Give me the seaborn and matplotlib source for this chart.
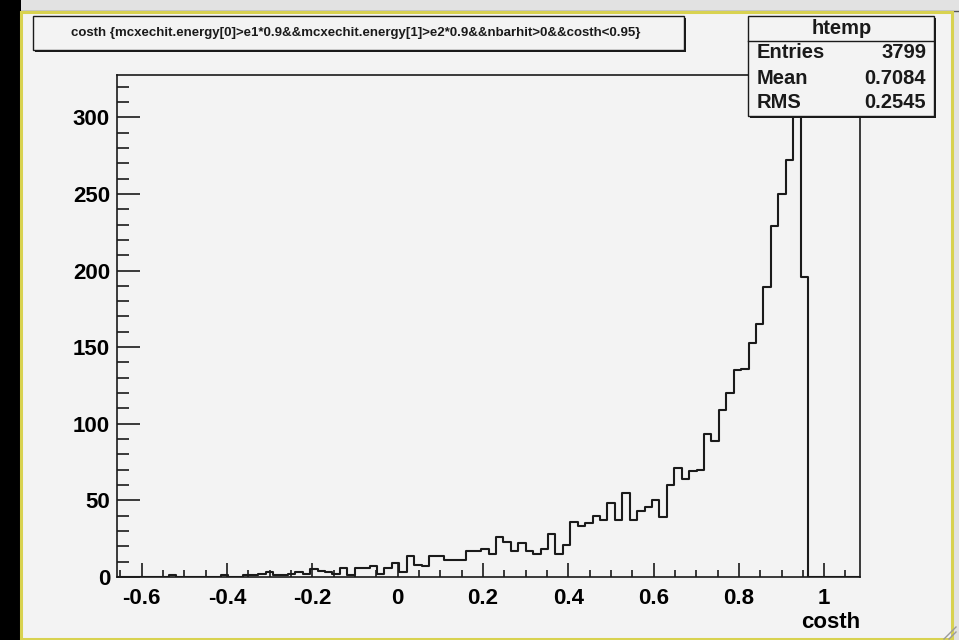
import numpy as np
import pandas as pd
import matplotlib
matplotlib.use("Agg")
import matplotlib.pyplot as plt
from matplotlib.patches import Rectangle
from matplotlib.lines import Line2D
from matplotlib.ticker import MultipleLocator
import seaborn as sns

# costh histogram: 100 equal bins
x_low = -0.658
x_high = 1.084
n_bins = 100

counts = [0, 0, 0, 0, 0, 0, 0, 1, 0, 0,
          0, 0, 0, 0, 1, 0, 0, 1, 1, 2,
          3, 1, 1, 2, 3, 2, 5, 4, 3, 2,
          6, 1, 6, 6, 7, 2, 6, 9, 3, 14,
          8, 7, 14, 14, 11, 11, 11, 17, 17, 18,
          15, 26, 23, 17, 22, 17, 15, 18, 28, 15,
          21, 36, 33, 35, 40, 37, 48, 37, 55, 37,
          43, 46, 50, 39, 60, 71, 64, 69, 70, 93,
          89, 109, 120, 135, 136, 153, 165, 189, 229, 250,
          272, 312, 196, 0, 0, 0, 0, 0, 0, 0]

title_text = "costh {mcxechit.energy[0]>e1*0.9&&mcxechit.energy[1]>e2*0.9&&nbarhit>0&&costh<0.95}"
stats_name = "htemp"
stats_labels = ["Entries", "Mean", "RMS"]
stats_values = ["3799", "0.7084", "0.2545"]
x_label = "costh"

W, H = 959, 640
BG = "#f3f3f3"
INK = "#1a1a1a"

plt.rcParams["font.family"] = ["Liberation Sans", "DejaVu Sans"]


def fx(px):
    return px / W


def fy(py):
    return 1 - py / H


fig = plt.figure(figsize=(W / 100, H / 100), dpi=100)
fig.patch.set_facecolor("#e2e2e2")

# window decoration around the canvas
fig.patches.append(Rectangle((0, 0), fx(21), 1, transform=fig.transFigure,
                             facecolor="black", edgecolor="none", zorder=-2))
fig.patches.append(Rectangle((fx(21), fy(639)), fx(952) - fx(21), fy(12) - fy(639),
                             transform=fig.transFigure, facecolor=BG,
                             edgecolor="#d8d250", linewidth=2.2, zorder=-1))
fig.lines.append(Line2D([fx(21), fx(959)], [fy(11), fy(11)], transform=fig.transFigure,
                        color="#555555", linewidth=1.0, zorder=-1))
# resize grip in the lower right corner
for off in (0, 5):
    fig.lines.append(Line2D([fx(944 + off), fx(956)], [fy(639), fy(627 + off)],
                            transform=fig.transFigure, color="#9a9a9a",
                            linewidth=1.0, zorder=8))


def shadow_box(x0, y0, x1, y1):
    fig.patches.append(Rectangle((fx(x0 + 2), fy(y1 + 2)), fx(x1) - fx(x0), fy(y0) - fy(y1),
                                 transform=fig.transFigure, facecolor=INK,
                                 edgecolor="none", zorder=5))
    fig.patches.append(Rectangle((fx(x0), fy(y1)), fx(x1) - fx(x0), fy(y0) - fy(y1),
                                 transform=fig.transFigure, facecolor=BG,
                                 edgecolor=INK, linewidth=1.0, zorder=6))


ax = fig.add_axes([fx(117), fy(577), fx(860) - fx(117), fy(75) - fy(577)])
ax.set_zorder(2)
ax.set_facecolor(BG)

edges = np.linspace(x_low, x_high, n_bins + 1)
hist_df = pd.DataFrame({"costh": 0.5 * (edges[:-1] + edges[1:]), "n": counts})
sns.histplot(data=hist_df, x="costh", weights="n", bins=edges.tolist(), element="step",
             fill=False, color=INK, linewidth=1.5, ax=ax)

ax.set_xlim(x_low, x_high)
ax.set_ylim(0, 1.05 * max(counts))
ax.set_ylabel("")
ax.set_xlabel(x_label, loc="right", fontsize=16, fontweight="bold", labelpad=2)

for s in ax.spines.values():
    s.set_color(INK)
    s.set_linewidth(1.2)

ax.xaxis.set_major_locator(MultipleLocator(0.2))
ax.xaxis.set_minor_locator(MultipleLocator(0.05))
ax.yaxis.set_major_locator(MultipleLocator(50))
ax.yaxis.set_minor_locator(MultipleLocator(10))
ax.xaxis.set_major_formatter(plt.FuncFormatter(lambda v, p: f"{v:g}" if abs(v) > 1e-9 else "0"))

ax.tick_params(axis="x", which="major", direction="in", length=10, width=1.2,
               labelsize=16, pad=8, color=INK)
ax.tick_params(axis="x", which="minor", direction="in", length=5, width=1.2, color=INK)
ax.tick_params(axis="y", which="major", direction="in", length=16.5, width=1.2,
               labelsize=16, pad=5, color=INK)
ax.tick_params(axis="y", which="minor", direction="in", length=8.5, width=1.2, color=INK)
for lab in ax.get_xticklabels() + ax.get_yticklabels():
    lab.set_fontweight("bold")

# title pave
shadow_box(33, 16, 684, 50)
fig.text(fx(356), fy(33), title_text, ha="center", va="center", fontsize=9.5,
         fontweight="bold", color=INK, zorder=7)

# statistics box
shadow_box(748, 16, 934, 116)
fig.lines.append(Line2D([fx(748), fx(934)], [fy(41), fy(41)], transform=fig.transFigure,
                        color=INK, linewidth=1.0, zorder=7))
fig.text(fx(842), fy(28), stats_name, ha="center", va="center", fontsize=14.5,
         fontweight="bold", color=INK, zorder=7)
for i, (lab, val) in enumerate(zip(stats_labels, stats_values)):
    yy = fy(53 + 25 * i)
    fig.text(fx(757), yy, lab, ha="left", va="center", fontsize=14.5,
             fontweight="bold", color=INK, zorder=7)
    fig.text(fx(926), yy, val, ha="right", va="center", fontsize=14.5,
             fontweight="bold", color=INK, zorder=7)

fig.savefig("out.png", dpi=100, facecolor=fig.get_facecolor())
